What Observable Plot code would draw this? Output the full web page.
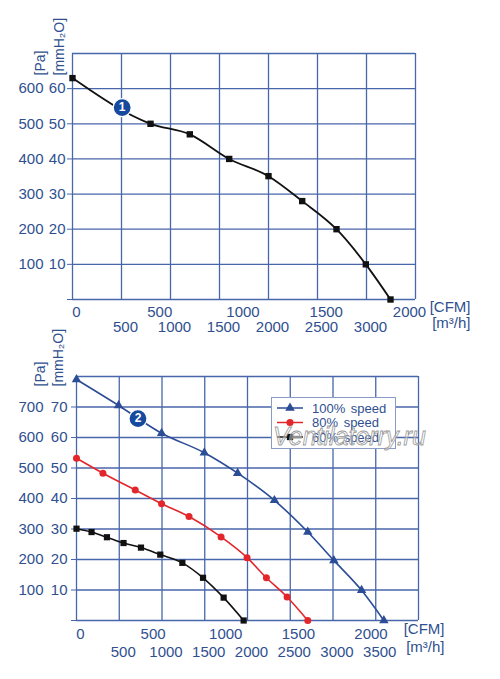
<!DOCTYPE html>
<html>
<head>
<meta charset="utf-8">
<script src="https://cdn.jsdelivr.net/npm/d3@7"></script>
<script src="https://cdn.jsdelivr.net/npm/@observablehq/plot@0.6"></script>
<style>
  html, body { margin: 0; padding: 0; background: #fff; }
  #root { position: relative; width: 500px; height: 679px; overflow: hidden; font-family: "Liberation Sans", Arial, sans-serif; }
  .panel { position: absolute; left: 0; }
  #legend { position: absolute; left: 271px; top: 397px; }
</style>
</head>
<body>
<div id="root">
  <div id="chart1" class="panel" style="top:0"></div>
  <div id="chart2" class="panel" style="top:340px"></div>
  <div id="legend"></div>
</div>
<script>
// ---------- data ----------
// Chart 1 (single curve): flow in m³/h, pressure in Pa
const topFlow     = [0, 796, 1197, 1599, 2000, 2344, 2694, 2993, 3245];
const topPressure = [630, 500, 470, 400, 351, 280, 200, 100, 0];
const topBadge    = [{flow: 507, pa: 546, label: "1"}];

// Chart 2 (three speeds)
const flow100 = [0, 492, 995, 1495, 1885, 2315, 2705, 3010, 3334, 3595];
const pa100   = [790, 705, 614, 550, 483, 394, 290, 197, 99, 0];
const flow80  = [0, 309, 687, 995, 1316, 1691, 1995, 2221, 2463, 2705];
const pa80    = [532, 483, 428, 383, 341, 274, 206, 140, 77, 0];
const flow60  = [0, 176, 356, 550, 754, 980, 1238, 1480, 1721, 1955];
const pa60    = [301, 290, 273, 254, 239, 216, 189, 140, 75, 0];
const bottomBadge = [{flow: 719, pa: 662, label: "2"}];

const seriesNames  = ["100% speed", "80% speed", "60% speed"];
const seriesColors = ["#2b4c96", "#e3262b", "#111111"];
const seriesSymbols = ["triangle", "circle", "square"];

// axis ticks
const topGridX = [0, 500, 1000, 1500, 2000, 2500, 3000, 3500];
const topGridY = [0, 100, 200, 300, 400, 500, 600, 700];
const topM3hLabels = [500, 1000, 1500, 2000, 2500, 3000];
const topCfmLabels = [0, 500, 1000, 1500, 2000];
const topPaLabels  = [100, 200, 300, 400, 500, 600];

const botGridX = [0, 500, 1000, 1500, 2000, 2500, 3000, 3500, 4000];
const botGridY = [0, 100, 200, 300, 400, 500, 600, 700, 800];
const botM3hLabels = [500, 1000, 1500, 2000, 2500, 3000, 3500];
const botCfmLabels = [0, 500, 1000, 1500, 2000];
const botPaLabels  = [100, 200, 300, 400, 500, 600, 700];

const CFM_TO_M3H = 1.699;
const textColor = "#2f4f8f";
const gridColor = "#4866aa";
const font = "Liberation Sans, Arial, sans-serif";

const zip = (xs, ys) => xs.map((x, i) => ({flow: x, pa: ys[i]}));

function axesAndGrid(o) {
  return [
    Plot.gridX({ticks: o.gridX, stroke: gridColor, strokeOpacity: 1, strokeWidth: 1.3}),
    Plot.gridY({ticks: o.gridY, stroke: gridColor, strokeOpacity: 1, strokeWidth: 1.3}),
    Plot.axisY({ticks: [0, ...o.paLabels], tickFormat: d => d === 0 ? "" : String(d / 10),
      tickSize: 5, tickPadding: o.mmPad, stroke: gridColor, fill: textColor,
      fontSize: 15, label: null}),
    Plot.axisY({ticks: o.paLabels, tickFormat: d => String(d), tickSize: 0, tickPadding: o.paPad,
      fill: textColor, fontSize: 15, label: null}),
    Plot.axisX({ticks: o.cfm.map(c => c * CFM_TO_M3H), tickFormat: d => String(Math.round(d / CFM_TO_M3H)),
      tickSize: 0, tickPadding: o.cfmPad, dx: 4, fill: textColor, fontSize: 15, label: null}),
    Plot.axisX({ticks: o.m3h, tickFormat: d => String(d), tickSize: 0, tickPadding: o.m3hPad, dx: 4,
      fill: textColor, fontSize: 15, label: null}),
    Plot.text(["[CFM]"], {frameAnchor: "bottom-right", text: d => d, textAnchor: "end",
      dx: o.unitDx, dy: o.cfmDy, fill: textColor, fontSize: 15}),
    Plot.text(["[m³/h]"], {frameAnchor: "bottom-right", text: d => d, textAnchor: "end",
      dx: o.unitDx, dy: o.m3hDy, fill: textColor, fontSize: 15}),
    Plot.text(["[Pa]"], {frameAnchor: "top-left", text: d => d, rotate: -90, textAnchor: "start",
      dx: o.paLblDx, dy: o.lblDy, fill: textColor, fontSize: 14}),
    Plot.text(["[mmH₂O]"], {frameAnchor: "top-left", text: d => d, rotate: -90, textAnchor: "start",
      dx: o.mmLblDx, dy: o.lblDy, fill: textColor, fontSize: 14})
  ];
}

function badge(data) {
  return [
    Plot.dot(data, {x: "flow", y: "pa", r: 9, fill: "#174a9e", stroke: "white", strokeWidth: 1.2}),
    Plot.text(data, {x: "flow", y: "pa", text: "label", fill: "white", fontWeight: "bold", fontSize: 12})
  ];
}

// ---------- chart 1 ----------
const topData = zip(topFlow, topPressure);
const plot1 = Plot.plot({
  width: 500, height: 340,
  marginTop: 53, marginBottom: 41, marginLeft: 72, marginRight: 85,
  style: {fontFamily: font, color: textColor, background: "white", overflow: "visible"},
  x: {domain: [0, 3500]},
  y: {domain: [0, 700]},
  marks: [
    ...axesAndGrid({gridX: topGridX, gridY: topGridY, paLabels: topPaLabels, cfm: topCfmLabels, m3h: topM3hLabels,
      mmPad: 2, paPad: 29, cfmPad: 7, m3hPad: 22, unitDx: 55, cfmDy: 12.7, m3hDy: 28,
      paLblDx: -37, mmLblDx: -18, lblDy: 22}),
    Plot.line(topData, {x: "flow", y: "pa", stroke: "#111", strokeWidth: 1.8, curve: "monotone-x"}),
    Plot.dot(topData, {x: "flow", y: "pa", symbol: "square", r: 3.6, fill: "#111"}),
    ...badge(topBadge)
  ]
});
document.getElementById("chart1").appendChild(plot1);

// ---------- chart 2 ----------
const series = [zip(flow100, pa100), zip(flow80, pa80), zip(flow60, pa60)];
const seriesMarks = series.flatMap((d, i) => [
  Plot.line(d, {x: "flow", y: "pa", stroke: seriesColors[i], strokeWidth: 1.6, curve: "monotone-x"}),
  Plot.dot(d, {x: "flow", y: "pa", symbol: seriesSymbols[i], r: 3.5, fill: seriesColors[i]})
]);
const plot2 = Plot.plot({
  width: 500, height: 339,
  marginTop: 36, marginBottom: 59, marginLeft: 76, marginRight: 82,
  style: {fontFamily: font, color: textColor, background: "white", overflow: "visible"},
  x: {domain: [0, 4000]},
  y: {domain: [0, 800]},
  marks: [
    ...axesAndGrid({gridX: botGridX, gridY: botGridY, paLabels: botPaLabels, cfm: botCfmLabels, m3h: botM3hLabels,
      mmPad: 4, paPad: 33, cfmPad: 8, m3hPad: 25.5, unitDx: 26, cfmDy: 13.5, m3hDy: 31,
      paLblDx: -41, mmLblDx: -23, lblDy: 10}),
    ...seriesMarks,
    ...badge(bottomBadge)
  ]
});
document.getElementById("chart2").appendChild(plot2);

// ---------- legend (inside plot area, as in the original) ----------
const lg = d3.select("#legend").append("svg").attr("width", 170).attr("height", 60)
  .style("overflow", "visible");
lg.append("rect").attr("x", 0.5).attr("y", 0.5).attr("width", 124).attr("height", 51)
  .attr("fill", "white").attr("stroke", "#8a9cc4").attr("stroke-width", 1);
const symbolTypes = {triangle: d3.symbolTriangle, circle: d3.symbolCircle, square: d3.symbolSquare};
seriesNames.forEach((name, i) => {
  const cy = 11 + i * 14.5;
  lg.append("line").attr("x1", 6).attr("x2", 32).attr("y1", cy).attr("y2", cy)
    .attr("stroke", seriesColors[i]).attr("stroke-width", 1.5);
  lg.append("path").attr("transform", `translate(19,${cy})`)
    .attr("d", d3.symbol(symbolTypes[seriesSymbols[i]], 40)())
    .attr("fill", seriesColors[i]);
  lg.append("text").attr("x", 41).attr("y", cy).attr("dy", "0.35em")
    .attr("fill", textColor).attr("font-size", 13).attr("font-family", font)
    .attr("word-spacing", 2).text(name);
});
// watermark
lg.append("text").attr("x", 2).attr("y", 48).attr("font-size", 25).attr("font-style", "italic")
  .attr("font-family", font).attr("fill", "white").attr("fill-opacity", 0.35)
  .attr("stroke", "#9a9a9a").attr("stroke-width", 0.8).text("Ventilatorry.ru");
</script>
</body>
</html>
